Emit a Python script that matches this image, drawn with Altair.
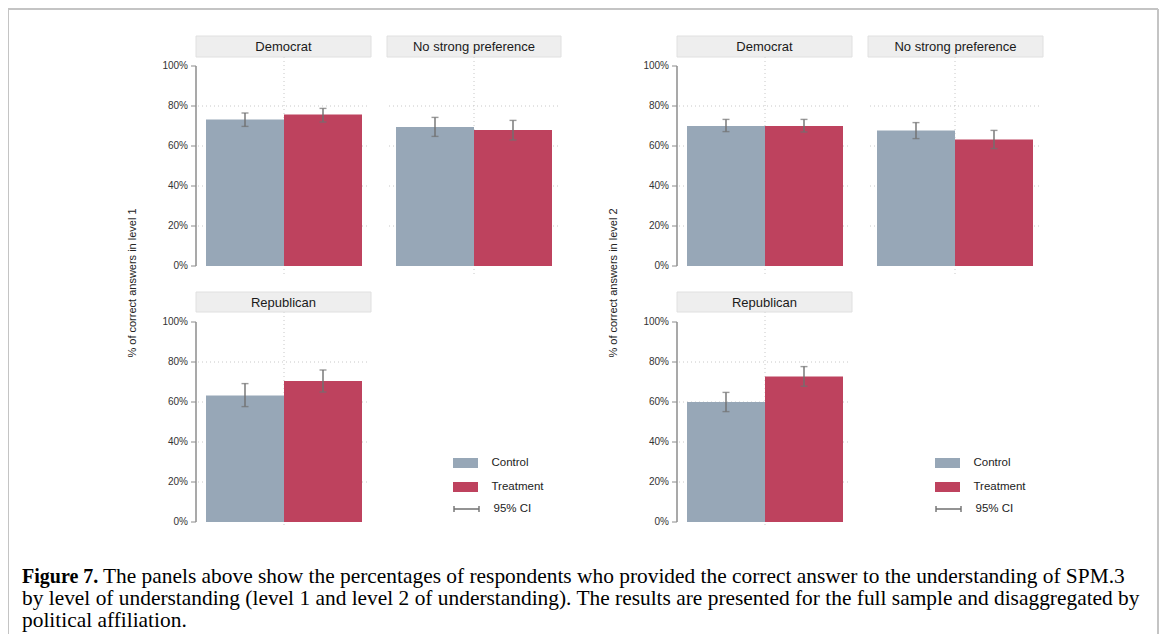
import altair as alt
import pandas as pd

levels = ["level 1", "level 2"]
affiliations = ["Democrat", "No strong preference", "Republican"]
groups = ["Control", "Treatment"]
group_colors = ["#97a7b7", "#be425e"]
ci_label = "95% CI"
y_ticks = [0, 0.2, 0.4, 0.6, 0.8, 1.0]
grid_values = [0.2, 0.4, 0.6, 0.8]

# order: Democrat (Control, Treatment), No strong preference (C, T), Republican (C, T)
level1_mean = [0.733, 0.757, 0.695, 0.680, 0.633, 0.705]
level1_low = [0.698, 0.720, 0.648, 0.630, 0.577, 0.650]
level1_high = [0.765, 0.788, 0.743, 0.728, 0.692, 0.760]
level2_mean = [0.700, 0.700, 0.677, 0.633, 0.600, 0.728]
level2_low = [0.672, 0.670, 0.637, 0.587, 0.552, 0.679]
level2_high = [0.733, 0.733, 0.717, 0.678, 0.648, 0.777]

y_titles = ["% of correct answers in level 1", "% of correct answers in level 2"]
caption_bold = "Figure 7."
caption_lines = [
    "The panels above show the percentages of respondents who provided the correct answer to the understanding of SPM.3",
    "by level of understanding (level 1 and level 2 of understanding). The results are presented for the full sample and disaggregated by",
    "political affiliation.",
]

rows = []
for lev, means, lows, highs in [
    ("level 1", level1_mean, level1_low, level1_high),
    ("level 2", level2_mean, level2_low, level2_high),
]:
    i = 0
    for aff in affiliations:
        for g in groups:
            rows.append(dict(level=lev, affiliation=aff, group=g, mean=means[i],
                             low=lows[i], high=highs[i], ci=ci_label))
            i += 1
df = pd.DataFrame(rows)

tick_df = pd.DataFrame({"t": y_ticks, "label": [f"{int(round(v * 100))}%" for v in y_ticks]})
grid_df = pd.DataFrame({"g": grid_values})
domain_df = pd.DataFrame({"a": [y_ticks[0]], "b": [y_ticks[-1]]})
one = pd.DataFrame({"k": [0]})

# ---------------- layout (view pixel coordinates) ----------------
W, H = 1151, 626
SANS = "Liberation Sans"
SERIF = "Liberation Serif"
AXIS_COLOR = "#8c8c8c"
GRID_COLOR = "#c8c8c8"
ERR_COLOR = "#707070"
row_geo = [
    dict(y0=258, y100=58, strip=(28, 49), vline=(49, 266)),
    dict(y0=514, y100=314, strip=(284, 304), vline=(304, 520)),
]
col_geo = {
    ("level 1", 0): dict(bx=(198, 354), sx=(188, 363), cx=276, axis_x=188),
    ("level 1", 1): dict(bx=(388, 544), sx=(379, 553), cx=466, axis_x=None),
    ("level 2", 0): dict(bx=(679, 835), sx=(669, 844), cx=757, axis_x=669),
    ("level 2", 1): dict(bx=(869, 1025), sx=(860, 1035), cx=947, axis_x=None),
}
panel_pos = {"Democrat": (0, 0), "No strong preference": (0, 1), "Republican": (1, 0)}
legend_x = {"level 1": 447.5, "level 2": 929.5}
ytitle_x = {"level 1": 125, "level 2": 606}


def panel(lev, aff):
    r, c = panel_pos[aff]
    rg = row_geo[r]
    cg = col_geo[(lev, c)]
    d = df[(df.level == lev) & (df.affiliation == aff)]
    xs = alt.Scale(domain=groups, range=list(cg["bx"]), paddingInner=0, paddingOuter=0)
    ys = alt.Scale(domain=[0, 1], range=[rg["y0"], rg["y100"]])
    show_legend = aff == "Republican"
    layers = []

    layers.append(alt.Chart(grid_df).mark_rule(color=GRID_COLOR, strokeDash=[1, 3], strokeWidth=1).encode(
        y=alt.Y("g:Q", scale=ys, axis=None),
        x=alt.value(cg["sx"][0] + 2), x2=alt.value(cg["sx"][1] - 1),
    ))
    layers.append(alt.Chart(one).mark_rule(color=GRID_COLOR, strokeDash=[1, 3], strokeWidth=1).encode(
        x=alt.value(cg["cx"]), y=alt.value(rg["vline"][0]), y2=alt.value(rg["vline"][1]),
    ))
    layers.append(alt.Chart(one).mark_rect(fill="#eeeeee", stroke="#e0e0e0", strokeWidth=1).encode(
        x=alt.value(cg["sx"][0]), x2=alt.value(cg["sx"][1]),
        y=alt.value(rg["strip"][0]), y2=alt.value(rg["strip"][1]),
    ))
    layers.append(alt.Chart(one).mark_text(font=SANS, fontSize=13, color="#1a1a1a", baseline="middle").encode(
        x=alt.value((cg["sx"][0] + cg["sx"][1]) / 2),
        y=alt.value((rg["strip"][0] + rg["strip"][1]) / 2 + 0.5),
        text=alt.value(aff),
    ))
    if cg["axis_x"] is not None:
        ax = cg["axis_x"]
        layers.append(alt.Chart(domain_df).mark_rule(color=AXIS_COLOR, strokeWidth=1.5).encode(
            x=alt.value(ax), y=alt.Y("a:Q", scale=ys, axis=None), y2="b:Q"))
        layers.append(alt.Chart(tick_df).mark_rule(color=AXIS_COLOR, strokeWidth=1).encode(
            x=alt.value(ax - 5), x2=alt.value(ax), y=alt.Y("t:Q", scale=ys, axis=None)))
        layers.append(alt.Chart(tick_df).mark_text(font=SANS, fontSize=10, color="#333333", align="right",
                                                   baseline="middle").encode(
            x=alt.value(ax - 8), y=alt.Y("t:Q", scale=ys, axis=None), text="label:N"))
    if show_legend:
        color_legend = alt.Legend(orient="none", legendX=legend_x[lev], legendY=445, title=None,
                                  symbolType="M-1.25,-0.5H1.25V0.5H-1.25Z", symbolSize=400,
                                  symbolStrokeWidth=0, labelFont=SANS, labelFontSize=11.5,
                                  labelColor="#222222", labelOffset=16, rowPadding=8, padding=0)
    else:
        color_legend = None
    layers.append(alt.Chart(d).mark_bar().encode(
        x=alt.X("group:N", scale=xs, axis=None),
        y=alt.Y("mean:Q", scale=ys, axis=None),
        color=alt.Color("group:N", scale=alt.Scale(domain=groups, range=group_colors), legend=color_legend),
    ))
    err_enc = dict(
        x=alt.X("group:N", scale=xs, axis=None),
        y=alt.Y("low:Q", scale=ys, axis=None),
        y2="high:Q",
    )
    if show_legend:
        err_enc["strokeDash"] = alt.StrokeDash(
            "ci:N", scale=alt.Scale(domain=[ci_label], range=[[1, 0]]),
            legend=alt.Legend(orient="none", legendX=legend_x[lev], legendY=490, title=None,
                              symbolType="M-1.25,0H1.25M-1.25,-0.3V0.3M1.25,-0.3V0.3", symbolSize=400,
                              symbolStrokeColor=ERR_COLOR, symbolStrokeWidth=1.4,
                              symbolFillColor="transparent", labelFont=SANS, labelFontSize=11.5,
                              labelColor="#222222", labelOffset=16, padding=0))
    layers.append(alt.Chart(d).mark_rule(color=ERR_COLOR, strokeWidth=1.4).encode(**err_enc))
    for fld in ("low", "high"):
        layers.append(alt.Chart(d).mark_tick(color=ERR_COLOR, size=7, thickness=1.4).encode(
            x=alt.X("group:N", scale=xs, axis=None), y=alt.Y(f"{fld}:Q", scale=ys, axis=None)))
    return alt.layer(*layers)


panels = [panel(lev, aff) for lev in levels for aff in affiliations]

decor = []
for lev, t in zip(levels, y_titles):
    decor.append(alt.Chart(one).mark_text(font=SANS, fontSize=11, color="#222222", angle=270,
                                          baseline="middle").encode(
        x=alt.value(ytitle_x[lev]), y=alt.value(275), text=alt.value(t)))

border_color = "#c4c4c4"
decor.append(alt.Chart(one).mark_rule(color=border_color, strokeWidth=2).encode(
    x=alt.value(0), y=alt.value(1), y2=alt.value(H)))
decor.append(alt.Chart(one).mark_rule(color=border_color, strokeWidth=2).encode(
    x=alt.value(0), x2=alt.value(W - 1), y=alt.value(1)))
decor.append(alt.Chart(one).mark_rule(color=border_color, strokeWidth=2).encode(
    x=alt.value(W - 1), y=alt.value(1), y2=alt.value(H)))

cap_x = 14
line_y = [569, 591, 613]
decor.append(alt.Chart(one).mark_text(font=SERIF, fontSize=20, fontWeight="bold", align="left",
                                      baseline="middle", color="#000000").encode(
    x=alt.value(cap_x), y=alt.value(line_y[0]), text=alt.value(caption_bold)))
decor.append(alt.Chart(one).mark_text(font=SERIF, fontSize=21.4, align="left",
                                      baseline="middle", color="#000000").encode(
    x=alt.value(cap_x + 81), y=alt.value(line_y[0]), text=alt.value(caption_lines[0])))
for i in (1, 2):
    decor.append(alt.Chart(one).mark_text(font=SERIF, fontSize=21.4, align="left",
                                          baseline="middle", color="#000000").encode(
        x=alt.value(cap_x), y=alt.value(line_y[i]), text=alt.value(caption_lines[i])))

chart = alt.layer(*panels, *decor).resolve_scale(
    x="independent", y="independent", color="independent", strokeDash="independent"
).properties(
    width=W, height=H, padding=0, autosize=alt.AutoSizeParams(type="none")
).configure_view(stroke="transparent")

chart.save("out.html", embed_options={"renderer": "svg", "actions": False})
